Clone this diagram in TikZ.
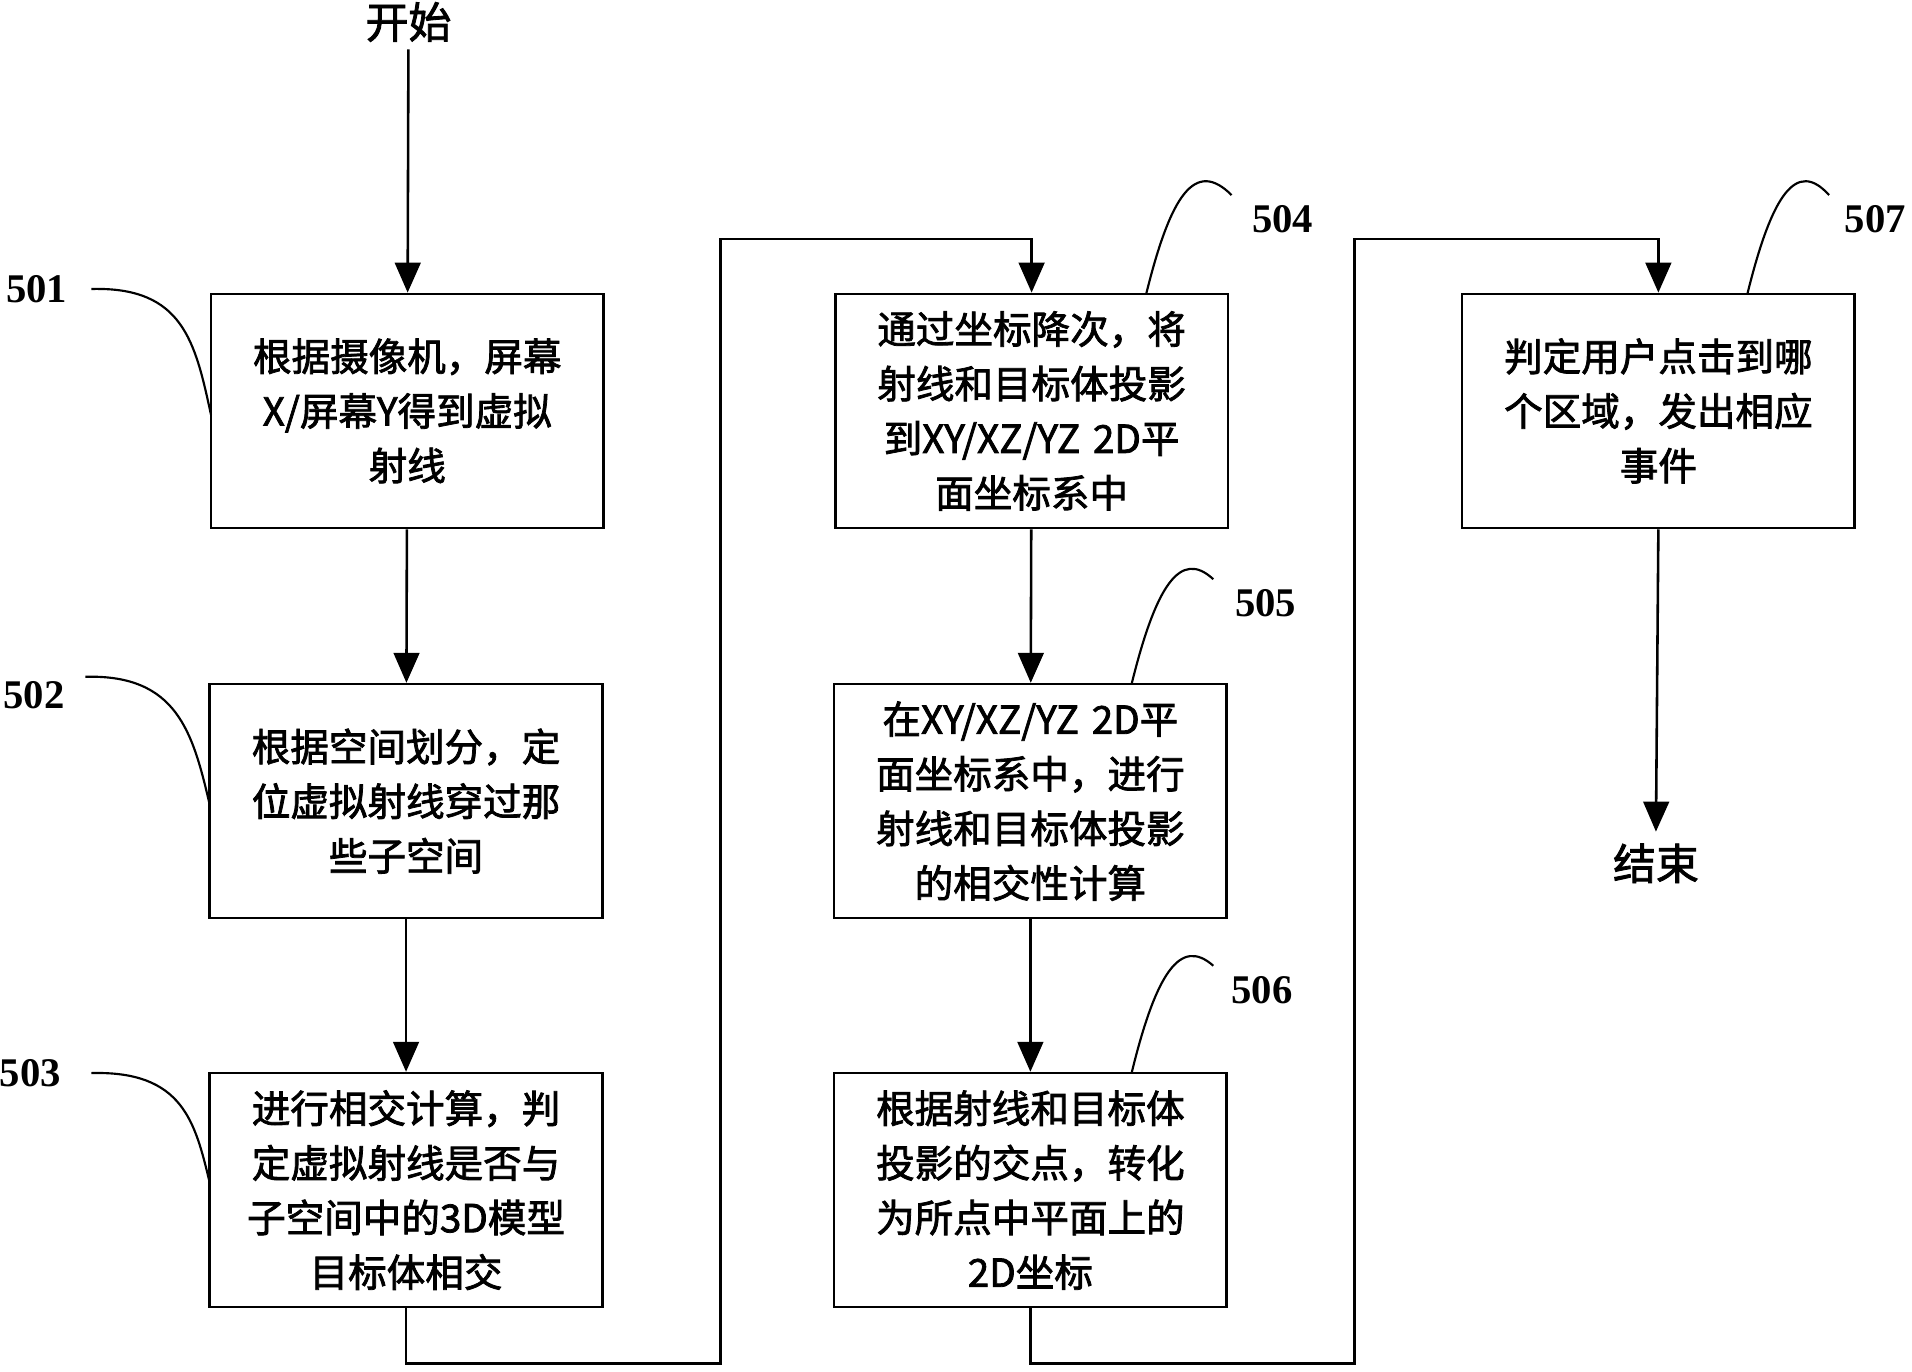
\documentclass[tikz,border=0pt]{standalone}
\usepackage{fontspec}
\setmainfont{Noto Sans CJK SC}[AutoFakeBold=2]
\newfontfamily\numfont{Liberation Serif}
\usetikzlibrary{arrows.meta}
\begin{document}
\begin{tikzpicture}[x=0.02cm,y=-0.02cm,
	box/.style={draw,line width=1.2pt,minimum width=6.44cm,minimum height=3.84cm,text width=5.9cm,align=center,font=\fontsize{18}{25.5}\selectfont\bfseries},
	lbl/.style={font=\fontsize{19}{22}\selectfont\numfont\bfseries},
	flow/.style={line width=1.2pt,-{Triangle[length=14pt,width=12pt]}}]
	\useasboundingbox (0,0) rectangle (1568,1125);
	\node[font=\fontsize{20}{24}\selectfont\bfseries](start) at (335,18){开始};
	\node[box](b1) at (334,337){根据摄像机，屏幕\\X/屏幕Y得到虚拟\\射线};
	\node[box](b2) at (333,657){根据空间划分，定\\位虚拟射线穿过那\\些子空间};
	\node[box](b3) at (333,976){进行相交计算，判\\定虚拟射线是否与\\子空间中的3D模型\\目标体相交};
	\node[box](b4) at (846,337){通过坐标降次，将\\射线和目标体投影\\到XY/XZ/YZ 2D平\\面坐标系中};
	\node[box](b5) at (845,657){在XY/XZ/YZ 2D平\\面坐标系中，进行\\射线和目标体投影\\的相交性计算};
	\node[box](b6) at (845,976){根据射线和目标体\\投影的交点，转化\\为所点中平面上的\\2D坐标};
	\node[box](b7) at (1360,337){判定用户点击到哪\\个区域，发出相应\\事件};
	\node[font=\fontsize{20}{24}\selectfont\bfseries](stop) at (1358,708){结束};
	% step labels
	\node[lbl](l501) at (30,237){501};
	\node[lbl](l502) at (28,570){502};
	\node[lbl](l503) at (25,880){503};
	\node[lbl](l504) at (1052,180){504};
	\node[lbl](l505) at (1038,495){505};
	\node[lbl](l506) at (1035,812){506};
	\node[lbl](l507) at (1538,180){507};
	\draw[line width=1pt] (75,237) .. controls (150,235) and (160,280) .. (173,340);
	\draw[line width=1pt] (70,555) .. controls (145,553) and (158,600) .. (172,660);
	\draw[line width=1pt] (75,880) .. controls (150,878) and (160,920) .. (172,970);
	\draw[line width=1pt] (940,241) .. controls (960,160) and (980,130) .. (1010,160);
	\draw[line width=1pt] (928,561) .. controls (948,480) and (968,450) .. (995,475);
	\draw[line width=1pt] (928,880) .. controls (948,798) and (968,768) .. (995,792);
	\draw[line width=1pt] (1433,241) .. controls (1453,160) and (1473,130) .. (1500,160);
	% connectors
	\draw[flow] (start) -- (b1);
	\draw[flow] (b1) -- (b2);
	\draw[flow] (b2) -- (b3);
	\draw[flow] (b3.south) -- ++(0,45) -| (591,196) -| (b4.north);
	\draw[flow] (b4) -- (b5);
	\draw[flow] (b5) -- (b6);
	\draw[flow] (b6.south) -- ++(0,45) -| (1111,196) -| (b7.north);
	\draw[flow] (b7.south) -- (1358,682);
\end{tikzpicture}
\end{document}
